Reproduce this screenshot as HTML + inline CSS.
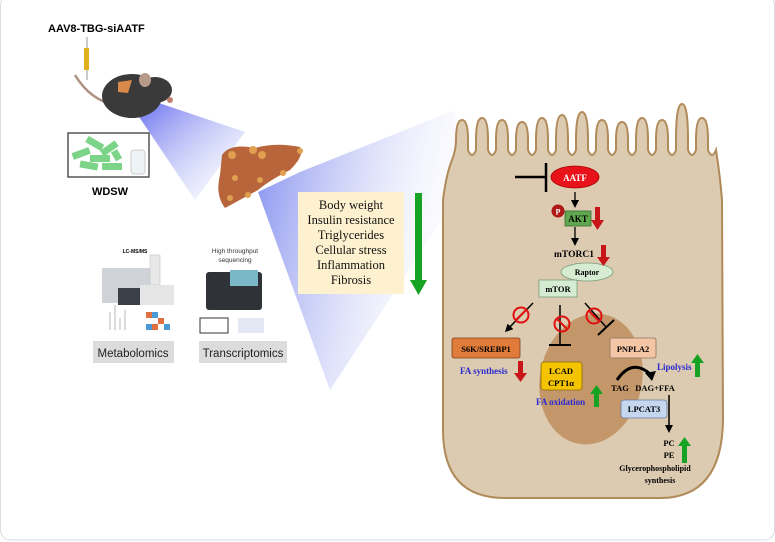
<!DOCTYPE html>
<html><head><meta charset="utf-8"><style>
html,body{margin:0;padding:0;background:#fff;}
svg{display:block;}
.s{font-family:"Liberation Sans",sans-serif;}
.t{font-family:"Liberation Serif",serif;font-weight:bold;}
</style></head><body>
<svg width="775" height="542" viewBox="0 0 775 542" xmlns="http://www.w3.org/2000/svg">
<defs>
<linearGradient id="b1" x1="0" y1="0" x2="1" y2="1"><stop offset="0" stop-color="#2a30e8"/><stop offset="0.6" stop-color="#aab2f4" stop-opacity="0.6"/><stop offset="1" stop-color="#eef0fc" stop-opacity="0.2"/></linearGradient>
<linearGradient id="b2" x1="0" y1="0" x2="1" y2="0.3"><stop offset="0" stop-color="#6070ec"/><stop offset="0.45" stop-color="#a8b0f2" stop-opacity="0.7"/><stop offset="1" stop-color="#eef0fc" stop-opacity="0.2"/></linearGradient>
<marker id="ah" markerWidth="8" markerHeight="8" refX="5" refY="4" orient="auto" markerUnits="userSpaceOnUse"><path d="M0,0 L8,4 L0,8 z" fill="#000"/></marker>
</defs>
<rect x="0.5" y="-5" width="774" height="545" rx="10" fill="#fff" stroke="#d6dde3"/>
<polygon points="125,96 150,100 245,132 195,200" fill="url(#b1)" opacity="0.8"/>
<polygon points="258,192 300,172 455,110 455,200 330,390" fill="url(#b2)" opacity="0.8"/>
<text x="48" y="32" class="s" font-size="11" font-weight="bold">AAV8-TBG-siAATF</text>
<line x1="87" y1="37" x2="87" y2="80" stroke="#999" stroke-width="1"/>
<rect x="84" y="48" width="5" height="22" fill="#e0b020"/>
<path d="M75,75 Q90,100 115,105" stroke="#b09080" stroke-width="2.5" fill="none"/>
<ellipse cx="132" cy="96" rx="30" ry="22" fill="#3a3a3a"/>
<ellipse cx="155" cy="90" rx="17" ry="13" fill="#3a3a3a"/>
<ellipse cx="145" cy="80" rx="6" ry="7" fill="#b89a8a"/>
<circle cx="170" cy="100" r="3" fill="#c08070"/>
<path d="M118,82 L132,80 L128,93 L118,92z" fill="#d98a4a"/>
<rect x="68" y="133" width="81" height="44" fill="#fff" stroke="#555" stroke-width="1.5"/>
<g fill="#7cd488">
<rect x="72" y="150" width="18" height="7" transform="rotate(-20 81 153)"/>
<rect x="86" y="140" width="18" height="7" transform="rotate(30 95 143)"/>
<rect x="90" y="155" width="20" height="7"/>
<rect x="100" y="145" width="18" height="7" transform="rotate(-35 109 148)"/>
<rect x="80" y="162" width="18" height="7" transform="rotate(10 89 165)"/>
<rect x="102" y="163" width="20" height="7"/>
<rect x="112" y="152" width="10" height="7" transform="rotate(60 117 155)"/>
</g>
<rect x="131" y="150" width="14" height="24" rx="3" fill="#eef3f6" stroke="#ccc"/>
<text x="110" y="195" class="s" font-size="11" font-weight="bold" text-anchor="middle">WDSW</text>
<path d="M222,155 Q230,143 255,148 Q275,142 300,147 Q305,155 290,170 Q270,180 258,190 Q240,200 225,208 Q215,195 220,175 z" fill="#b8653c"/>
<g fill="#e0a050"><circle cx="253" cy="150" r="4"/><circle cx="262" cy="155" r="4"/><circle cx="300" cy="151" r="3"/><circle cx="235" cy="178" r="3"/><circle cx="260" cy="180" r="3"/><circle cx="230" cy="198" r="3"/><circle cx="248" cy="195" r="3"/><circle cx="283" cy="173" r="3"/><circle cx="232" cy="155" r="4"/></g>
<rect x="298" y="192" width="106" height="102" fill="#fdf1cf"/>
<g font-size="12.5" text-anchor="middle" font-family="Liberation Serif,serif" fill="#111">
<text x="351" y="209">Body weight</text><text x="351" y="224">Insulin resistance</text><text x="351" y="239">Triglycerides</text><text x="351" y="254">Cellular stress</text><text x="351" y="269">Inflammation</text><text x="351" y="284">Fibrosis</text></g>
<rect x="415" y="193" width="7" height="87" fill="#16a323"/>
<polygon points="410,280 427,280 418.5,295" fill="#16a323"/>
<text x="135" y="253" class="s" font-size="5" font-weight="bold" text-anchor="middle">LC-MS/MS</text>
<rect x="102" y="268" width="50" height="35" fill="#cfd3d8"/>
<rect x="118" y="288" width="32" height="17" fill="#3a3f48"/>
<rect x="150" y="255" width="10" height="30" fill="#e8e8e8" stroke="#bbb" stroke-width="0.5"/>
<rect x="140" y="285" width="34" height="20" fill="#e6e6e6"/>
<g fill="#e07040"><rect x="146" y="312" width="6" height="6"/><rect x="158" y="318" width="6" height="6"/><rect x="152" y="324" width="6" height="6"/></g>
<g fill="#4a9ad8"><rect x="152" y="312" width="6" height="6"/><rect x="146" y="324" width="6" height="6"/><rect x="164" y="324" width="6" height="6"/></g>
<g stroke="#888" stroke-width="0.6"><line x1="110" y1="330" x2="110" y2="312"/><line x1="115" y1="330" x2="115" y2="305"/><line x1="120" y1="330" x2="120" y2="318"/><line x1="125" y1="330" x2="125" y2="310"/></g>
<text x="235" y="253" class="s" font-size="6.5" text-anchor="middle" fill="#333">High throughput</text>
<text x="235" y="262" class="s" font-size="6.5" text-anchor="middle" fill="#333">sequencing</text>
<rect x="206" y="272" width="56" height="38" rx="3" fill="#2f3338"/>
<rect x="230" y="270" width="28" height="16" fill="#7ab8c8"/>
<rect x="200" y="318" width="28" height="15" fill="#fff" stroke="#333"/>
<rect x="238" y="318" width="26" height="15" fill="#e4e8f4"/>
<rect x="93" y="341" width="81" height="22" fill="#dcdcdc"/>
<text x="133" y="357" class="s" font-size="11.5" text-anchor="middle" fill="#222">Metabolomics</text>
<rect x="199" y="341" width="88" height="22" fill="#dcdcdc"/>
<text x="243" y="357" class="s" font-size="11.5" text-anchor="middle" fill="#222">Transcriptomics</text>
<!-- cell -->
<path d="M452,160 Q456,150 456,140 Q456,120 462,120 Q468,120 468,140 L468,150 Q472,160 476,150 L476,140 Q476,118 482,118 Q488,118 488,140 L488,150 Q492,160 496,150 L496,140 Q496,120 502,120 Q508,120 508,140 L508,150 Q512,160 516,150 L516,140 Q516,122 522,122 Q528,122 528,140 L528,150 Q532,160 536,150 L536,140 Q536,118 542,118 Q548,118 548,140 L548,150 Q552,160 556,150 L556,140 Q556,115 562,115 Q568,115 568,140 L568,150 Q572,160 576,150 L576,140 Q576,112 582,112 Q588,112 588,140 L588,150 Q592,160 596,150 L596,140 Q596,120 602,120 Q608,120 608,140 L608,150 Q612,160 616,150 L616,140 Q616,122 622,122 Q628,122 628,140 L628,150 Q632,160 636,150 L636,140 Q636,118 642,118 Q648,118 648,140 L648,150 Q652,160 656,150 L656,140 Q656,120 662,120 Q668,120 668,140 L668,150 Q672,160 676,150 L676,140 Q676,104 682,104 Q688,104 688,140 L688,150 Q692,160 696,150 L696,140 Q696,118 702,118 Q708,118 708,140 L708,150 Q712,160 716,150 Q720,175 722,200 L723,420 Q722,498 660,498 L505,498 Q443,498 443,430 L443,200 Q446,175 452,160 z" fill="#dccbb0" stroke="#b08a58" stroke-width="2"/>
<ellipse cx="591" cy="379" rx="51" ry="66" fill="#c4976b" transform="rotate(12 591 379)"/>
<line x1="515" y1="177" x2="545" y2="177" stroke="#000" stroke-width="2.5"/>
<line x1="546" y1="163" x2="546" y2="192" stroke="#000" stroke-width="2.5"/>
<ellipse cx="575" cy="177" rx="24" ry="11" fill="#e8121a" stroke="#a00" stroke-width="0.8"/>
<text x="575" y="181" class="t" font-size="9" fill="#fff" text-anchor="middle">AATF</text>
<line x1="575" y1="192" x2="575" y2="205" stroke="#000" stroke-width="1.3" marker-end="url(#ah)"/>
<rect x="565" y="211" width="26" height="15" fill="#5fa84f" stroke="#3a6a30" stroke-width="0.8"/>
<text x="578" y="222" class="t" font-size="9" text-anchor="middle">AKT</text>
<circle cx="558" cy="211" r="6.5" fill="#b01818"/>
<text x="558" y="214.5" class="t" font-size="8" fill="#fff" text-anchor="middle">P</text>
<line x1="575" y1="227" x2="575" y2="243" stroke="#000" stroke-width="1.3" marker-end="url(#ah)"/>
<text x="574" y="257" class="t" font-size="9.5" text-anchor="middle">mTORC1</text>
<ellipse cx="587" cy="272" rx="26" ry="9" fill="#d5ecd2" stroke="#7a9a7a" stroke-width="0.8"/>
<text x="587" y="275" class="t" font-size="8" text-anchor="middle">Raptor</text>
<rect x="539" y="280" width="38" height="17" fill="#d5ecd2" stroke="#7a9a7a" stroke-width="0.8"/>
<text x="558" y="292" class="t" font-size="8.5" text-anchor="middle">mTOR</text>
<g fill="#c8151a"><rect x="595" y="207" width="5" height="14"/><polygon points="591,220 604,220 597.5,230"/>
<rect x="601" y="245" width="5" height="13"/><polygon points="597,257 610,257 603.5,266"/>
<rect x="518" y="361" width="5" height="13"/><polygon points="514,373 527,373 520.5,382"/></g>
<g fill="#16a323"><rect x="594" y="393" width="5" height="14"/><polygon points="590,394 603,394 596.5,385"/>
<rect x="695" y="362" width="5" height="15"/><polygon points="691,363 704,363 697.5,354"/>
<rect x="682" y="445" width="5" height="18"/><polygon points="678,446 691,446 684.5,437"/></g>
<line x1="533" y1="303" x2="507" y2="330" stroke="#000" stroke-width="1.5" marker-end="url(#ah)"/>
<line x1="560" y1="305" x2="560" y2="345" stroke="#000" stroke-width="1.5"/>
<line x1="549" y1="345" x2="571" y2="345" stroke="#000" stroke-width="2"/>
<line x1="585" y1="303" x2="606" y2="327" stroke="#000" stroke-width="1.5"/>
<line x1="598" y1="335" x2="614" y2="320" stroke="#000" stroke-width="2"/>
<g fill="none" stroke="#e01010" stroke-width="2"><circle cx="521" cy="315" r="7.5"/><line x1="516" y1="320" x2="526" y2="310"/><circle cx="562" cy="324" r="7.5"/><line x1="557" y1="319" x2="567" y2="329"/><circle cx="594" cy="316" r="7.5"/><line x1="589" y1="311" x2="599" y2="321"/></g>
<rect x="452" y="338" width="68" height="20" rx="2" fill="#e07b39" stroke="#7a4020" stroke-width="0.8"/>
<text x="486" y="352" class="t" font-size="8.5" text-anchor="middle">S6K/SREBP1</text>
<text x="460" y="374" class="t" font-size="9" fill="#2a2ad0">FA synthesis</text>
<rect x="541" y="362" width="41" height="28" rx="3" fill="#f5c400" stroke="#8a6a00" stroke-width="0.8"/>
<text x="561" y="374" class="t" font-size="8.5" text-anchor="middle">LCAD</text>
<text x="561" y="386" class="t" font-size="8.5" text-anchor="middle">CPT1α</text>
<text x="536" y="405" class="t" font-size="9" fill="#2a2ad0">FA oxidation</text>
<rect x="610" y="338" width="46" height="20" rx="2" fill="#f5c6a6" stroke="#8a7060" stroke-width="0.8"/>
<text x="633" y="352" class="t" font-size="8.5" text-anchor="middle">PNPLA2</text>
<path d="M617,380 Q632,358 650,374" fill="none" stroke="#000" stroke-width="3"/>
<polygon points="645,373 656,371 652,381" fill="#000"/>
<text x="657" y="370" class="t" font-size="9" fill="#2a2ad0">Lipolysis</text>
<text x="620" y="391" class="t" font-size="8.5" text-anchor="middle">TAG</text>
<text x="655" y="391" class="t" font-size="8.5" text-anchor="middle">DAG+FFA</text>
<rect x="621" y="400" width="46" height="18" rx="3" fill="#c5d7ef" stroke="#6a7a9a" stroke-width="0.8"/>
<text x="644" y="412" class="t" font-size="8.5" text-anchor="middle">LPCAT3</text>
<line x1="669" y1="395" x2="669" y2="430" stroke="#000" stroke-width="1.5" marker-end="url(#ah)"/>
<text x="669" y="446" class="t" font-size="8.5" text-anchor="middle">PC</text>
<text x="669" y="458" class="t" font-size="8.5" text-anchor="middle">PE</text>
<text x="655" y="471" class="t" font-size="8" text-anchor="middle">Glycerophospholipid</text>
<text x="660" y="483" class="t" font-size="8" text-anchor="middle">synthesis</text>
</svg>
</body></html>
